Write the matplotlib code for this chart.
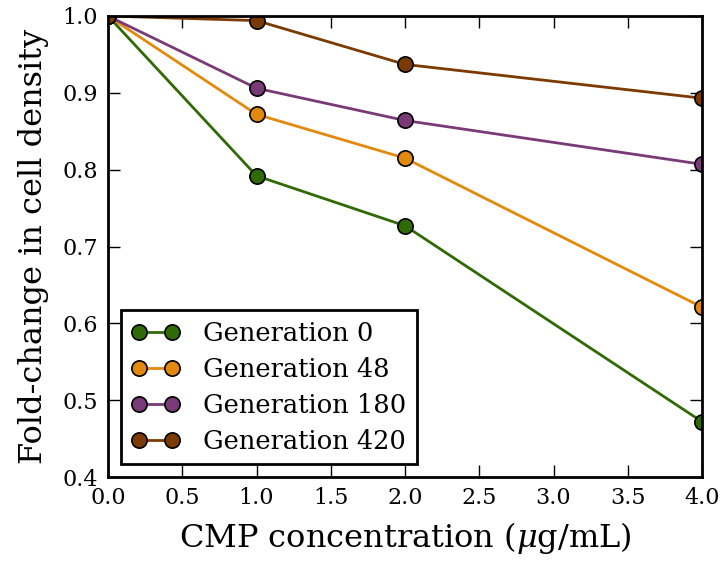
import matplotlib
matplotlib.use("Agg")
import matplotlib.pyplot as plt

conc = [0.0, 1.0, 2.0, 4.0]
gen0 = [1.0, 0.792, 0.727, 0.472]
gen48 = [1.0, 0.872, 0.815, 0.621]
gen180 = [1.0, 0.906, 0.864, 0.807]
gen420 = [1.0, 0.994, 0.937, 0.893]
labels = ["Generation 0", "Generation 48", "Generation 180", "Generation 420"]
colors = ["#2f6a04", "#e3890b", "#7a3a78", "#7b3b00"]

plt.rcParams['font.family'] = ['DejaVu Serif']
plt.rcParams['mathtext.fontset'] = 'dejavuserif'

fig = plt.figure(figsize=(7.22, 5.61), dpi=100)
ax = fig.add_axes([0.1496, 0.1497, 0.8227, 0.8218])

for ys, lab, c in zip([gen0, gen48, gen180, gen420], labels, colors):
    ax.plot(conc, ys, '-o', color=c, lw=2, ms=11, mfc=c, mec='black', mew=1.2, label=lab)

ax.set_xlim(0, 4)
ax.set_ylim(0.4, 1.0)
ax.set_xticks([0, 0.5, 1.0, 1.5, 2.0, 2.5, 3.0, 3.5, 4.0])
ax.set_yticks([0.4, 0.5, 0.6, 0.7, 0.8, 0.9, 1.0])
ax.tick_params(direction='in', top=True, right=True, length=8.5, width=1, labelsize=16, pad=7)
for s in ax.spines.values():
    s.set_linewidth(2)
ax.set_xlabel(r'CMP concentration ($\mu$g/mL)', fontsize=23, labelpad=8)
ax.set_ylabel('Fold-change in cell density', fontsize=23, labelpad=10)

leg = ax.legend(loc='lower left', numpoints=2, fontsize=18.5, fancybox=False,
                framealpha=1, edgecolor='black', borderaxespad=0.5, handlelength=1.9,
                handletextpad=0.9, labelspacing=0.43, borderpad=0.4)
leg.get_frame().set_linewidth(2)

fig.savefig('out.png', dpi=100)
